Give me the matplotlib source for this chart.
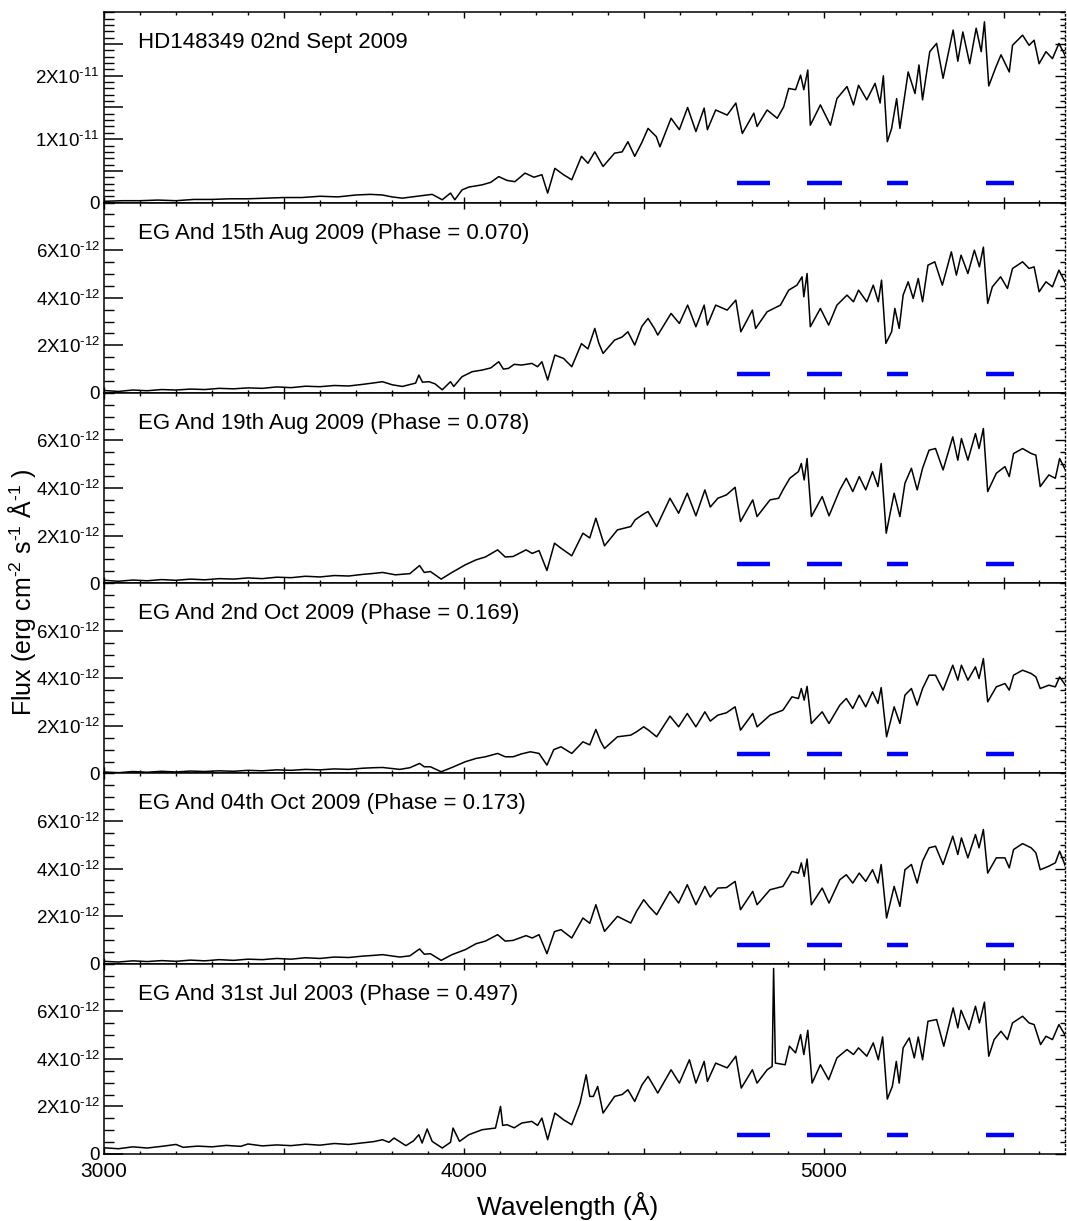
import matplotlib
matplotlib.use('Agg')
import numpy as np
import matplotlib.pyplot as plt
from matplotlib.ticker import MultipleLocator

plt.rcParams['font.family'] = ['Liberation Sans', 'DejaVu Sans']
plt.rcParams['mathtext.fontset'] = 'custom'
plt.rcParams['mathtext.rm'] = 'Liberation Sans'
plt.rcParams['mathtext.it'] = 'Liberation Sans:italic'

# ---- spectra (wavelength in Angstrom) ----
# HD148349, flux in units of 1e-11
hd_wave = [3000, 3050, 3100, 3150, 3200, 3250, 3300, 3350, 3400, 3450, 3500, 3550, 3600, 3650, 3700, 3740,
           3774, 3800, 3829, 3870, 3912, 3940, 3963, 3975, 3995, 4014, 4051, 4075, 4097, 4120, 4142, 4170,
           4195, 4217, 4233, 4253, 4277, 4300, 4327, 4345, 4364, 4387, 4419, 4440, 4456, 4475, 4495, 4512,
           4535, 4545, 4576, 4599, 4622, 4645, 4668, 4677, 4700, 4732, 4756, 4774, 4790, 4806, 4815, 4843,
           4871, 4889, 4903, 4922, 4936, 4945, 4956, 4963, 4991, 5019, 5037, 5065, 5083, 5097, 5120, 5143,
           5157, 5166, 5177, 5189, 5203, 5212, 5235, 5254, 5265, 5275, 5295, 5314, 5332, 5360, 5373, 5387,
           5406, 5424, 5438, 5447, 5459, 5479, 5493, 5516, 5525, 5553, 5571, 5585, 5599, 5618, 5636, 5654,
           5673, 5690]
hd_flux = [0.02, 0.03, 0.03, 0.04, 0.03, 0.05, 0.05, 0.06, 0.06, 0.07, 0.08, 0.08, 0.10, 0.09, 0.12, 0.13,
           0.12, 0.09, 0.07, 0.10, 0.13, 0.045, 0.15, 0.045, 0.20, 0.245, 0.28, 0.32, 0.41, 0.35, 0.33, 0.465,
           0.40, 0.44, 0.15, 0.54, 0.44, 0.36, 0.73, 0.62, 0.80, 0.57, 0.78, 0.80, 0.96, 0.73, 0.95, 1.17,
           1.04, 0.88, 1.33, 1.15, 1.50, 1.12, 1.49, 1.15, 1.46, 1.38, 1.57, 1.09, 1.25, 1.41, 1.20, 1.46,
           1.33, 1.51, 1.80, 1.78, 2.01, 1.78, 2.09, 1.22, 1.54, 1.22, 1.64, 1.83, 1.54, 1.85, 1.62, 1.88,
           1.57, 2.00, 0.96, 1.17, 1.64, 1.17, 2.06, 1.72, 2.17, 1.62, 2.38, 2.51, 1.96, 2.72, 2.23, 2.69,
           2.19, 2.75, 2.38, 2.85, 1.84, 2.14, 2.33, 2.06, 2.48, 2.64, 2.48, 2.56, 2.19, 2.38, 2.27, 2.51,
           2.30, 2.40]

# EG And 15th Aug 2009, flux in units of 1e-12
aug15_wave = [3000, 3040, 3080, 3120, 3160, 3200, 3240, 3280, 3320, 3360, 3400, 3440, 3480, 3520, 3560, 3600,
              3640, 3680, 3720, 3750, 3774, 3801, 3829, 3850, 3866, 3875, 3885, 3903, 3920, 3940, 3963, 3972,
              3995, 4023, 4051, 4075, 4097, 4110, 4124, 4140, 4161, 4189, 4205, 4217, 4233, 4253, 4277, 4300,
              4327, 4345, 4364, 4375, 4387, 4419, 4440, 4456, 4475, 4495, 4512, 4530, 4539, 4576, 4599, 4622,
              4645, 4668, 4677, 4700, 4732, 4756, 4770, 4802, 4811, 4843, 4880, 4903, 4926, 4940, 4945, 4954,
              4963, 4991, 5014, 5037, 5065, 5083, 5097, 5120, 5138, 5152, 5161, 5173, 5189, 5198, 5210, 5221,
              5235, 5249, 5263, 5275, 5290, 5309, 5330, 5355, 5369, 5382, 5401, 5419, 5433, 5444, 5456, 5469,
              5492, 5511, 5525, 5553, 5571, 5585, 5599, 5618, 5636, 5654, 5673, 5690]
aug15_flux = [0.10, 0.06, 0.12, 0.09, 0.14, 0.12, 0.16, 0.14, 0.19, 0.17, 0.21, 0.19, 0.25, 0.22, 0.28, 0.26,
              0.31, 0.29, 0.36, 0.42, 0.47, 0.34, 0.27, 0.35, 0.41, 0.75, 0.45, 0.47, 0.38, 0.13, 0.47, 0.27,
              0.68, 0.89, 0.96, 1.05, 1.31, 1.00, 1.03, 1.20, 1.17, 1.24, 1.10, 1.31, 0.54, 1.59, 1.45, 1.10,
              2.07, 1.85, 2.71, 2.10, 1.66, 2.22, 2.35, 2.57, 2.01, 2.80, 3.13, 2.70, 2.43, 3.34, 2.92, 3.69,
              2.78, 3.69, 2.85, 3.69, 3.48, 3.90, 2.57, 3.48, 2.71, 3.41, 3.69, 4.32, 4.53, 4.88, 4.04, 5.02,
              2.78, 3.55, 2.85, 3.69, 4.11, 3.83, 4.32, 3.83, 4.53, 3.83, 4.74, 2.08, 2.57, 3.55, 2.71, 4.11,
              4.67, 3.97, 4.81, 3.83, 5.37, 5.51, 4.53, 5.93, 4.95, 5.79, 5.02, 6.00, 5.30, 6.13, 3.76, 4.46,
              4.88, 4.39, 5.23, 5.51, 5.23, 5.30, 4.25, 4.67, 4.46, 5.16, 4.60, 4.70]

# EG And 19th Aug 2009
aug19_wave = [3000, 3040, 3080, 3120, 3160, 3200, 3240, 3280, 3320, 3360, 3400, 3440, 3480, 3520, 3560, 3600,
              3640, 3680, 3720, 3750, 3774, 3810, 3850, 3877, 3890, 3907, 3937, 3967, 4004, 4034, 4060, 4094,
              4115, 4137, 4173, 4190, 4209, 4231, 4252, 4270, 4300, 4331, 4350, 4367, 4380, 4391, 4427, 4464,
              4476, 4500, 4512, 4536, 4573, 4597, 4621, 4645, 4670, 4685, 4706, 4730, 4754, 4769, 4803, 4815,
              4851, 4875, 4887, 4906, 4930, 4938, 4946, 4954, 4966, 4996, 5015, 5045, 5063, 5081, 5099, 5117,
              5136, 5151, 5160, 5174, 5196, 5212, 5226, 5244, 5260, 5275, 5293, 5311, 5332, 5359, 5373, 5383,
              5401, 5422, 5432, 5444, 5456, 5480, 5504, 5516, 5528, 5553, 5577, 5590, 5602, 5626, 5644, 5656,
              5672, 5690]
aug19_flux = [0.12, 0.08, 0.13, 0.10, 0.15, 0.12, 0.17, 0.14, 0.19, 0.17, 0.22, 0.19, 0.25, 0.23, 0.29, 0.26,
              0.32, 0.30, 0.37, 0.41, 0.45, 0.35, 0.40, 0.74, 0.45, 0.49, 0.17, 0.45, 0.77, 0.98, 1.10, 1.40,
              1.10, 1.12, 1.40, 1.25, 1.37, 0.53, 1.68, 1.47, 1.15, 2.10, 1.90, 2.73, 2.10, 1.57, 2.24, 2.38,
              2.66, 2.91, 3.01, 2.38, 3.57, 2.94, 3.78, 2.83, 3.92, 3.20, 3.57, 3.71, 4.03, 2.59, 3.50, 2.80,
              3.50, 3.57, 3.92, 4.41, 4.69, 5.03, 4.34, 5.24, 2.80, 3.64, 2.83, 3.92, 4.41, 3.85, 4.48, 3.92,
              4.69, 4.06, 5.03, 2.10, 3.78, 2.80, 4.20, 4.83, 3.92, 4.83, 5.59, 5.66, 4.76, 6.15, 5.17, 6.08,
              5.17, 6.29, 5.66, 6.50, 3.85, 4.62, 4.90, 4.48, 5.45, 5.66, 5.45, 5.38, 4.06, 4.55, 4.41, 5.24,
              4.76, 4.85]

# EG And 2nd Oct 2009
oct02_wave = [3000, 3040, 3080, 3120, 3160, 3200, 3240, 3280, 3320, 3360, 3400, 3440, 3480, 3520, 3560, 3600,
              3640, 3680, 3720, 3750, 3774, 3822, 3850, 3877, 3890, 3907, 3937, 3967, 4004, 4034, 4060, 4094,
              4115, 4137, 4160, 4185, 4209, 4231, 4250, 4270, 4300, 4331, 4350, 4367, 4380, 4391, 4427, 4464,
              4480, 4500, 4515, 4536, 4573, 4597, 4621, 4645, 4670, 4685, 4706, 4730, 4754, 4769, 4803, 4815,
              4851, 4887, 4912, 4930, 4938, 4946, 4954, 4966, 4996, 5015, 5045, 5063, 5081, 5099, 5117, 5136,
              5151, 5160, 5175, 5196, 5212, 5226, 5244, 5260, 5275, 5293, 5311, 5332, 5359, 5373, 5383, 5401,
              5422, 5432, 5444, 5456, 5480, 5504, 5516, 5528, 5553, 5577, 5590, 5602, 5626, 5644, 5656, 5672,
              5690]
oct02_flux = [0.06, 0.03, 0.08, 0.05, 0.09, 0.06, 0.10, 0.08, 0.11, 0.09, 0.13, 0.11, 0.15, 0.13, 0.17, 0.15,
              0.19, 0.17, 0.22, 0.24, 0.25, 0.17, 0.24, 0.42, 0.28, 0.28, 0.07, 0.25, 0.49, 0.63, 0.70, 0.84,
              0.70, 0.70, 0.82, 0.91, 0.84, 0.35, 1.00, 1.12, 0.84, 1.33, 1.20, 1.85, 1.35, 1.05, 1.54, 1.61,
              1.75, 1.96, 1.80, 1.54, 2.41, 1.96, 2.52, 1.96, 2.59, 2.20, 2.45, 2.55, 2.80, 1.82, 2.52, 1.96,
              2.45, 2.66, 3.22, 3.15, 3.57, 3.08, 3.66, 2.10, 2.59, 2.10, 2.87, 3.15, 2.73, 3.29, 2.80, 3.43,
              2.94, 3.61, 1.54, 2.80, 2.10, 3.29, 3.57, 2.87, 3.57, 4.13, 4.13, 3.50, 4.55, 3.92, 4.55, 3.92,
              4.48, 3.99, 4.83, 3.01, 3.64, 3.78, 3.50, 4.13, 4.34, 4.20, 4.06, 3.57, 3.71, 3.64, 4.06, 3.71,
              3.80]

# EG And 04th Oct 2009
oct04_wave = [3000, 3040, 3080, 3120, 3160, 3200, 3240, 3280, 3320, 3360, 3400, 3440, 3480, 3520, 3560, 3600,
              3640, 3680, 3720, 3750, 3774, 3822, 3850, 3877, 3890, 3907, 3937, 3967, 4004, 4034, 4060, 4094,
              4115, 4137, 4173, 4190, 4209, 4231, 4252, 4270, 4300, 4331, 4350, 4367, 4380, 4391, 4427, 4464,
              4480, 4500, 4515, 4536, 4573, 4597, 4621, 4645, 4670, 4685, 4706, 4730, 4754, 4769, 4803, 4815,
              4851, 4887, 4912, 4930, 4938, 4946, 4954, 4966, 4996, 5015, 5045, 5063, 5081, 5099, 5117, 5136,
              5151, 5160, 5175, 5196, 5212, 5226, 5244, 5260, 5275, 5293, 5311, 5332, 5359, 5373, 5383, 5401,
              5422, 5432, 5444, 5456, 5480, 5504, 5516, 5528, 5553, 5577, 5590, 5602, 5626, 5644, 5656, 5672,
              5690]
oct04_flux = [0.10, 0.07, 0.12, 0.09, 0.13, 0.10, 0.15, 0.12, 0.17, 0.14, 0.19, 0.17, 0.22, 0.19, 0.25, 0.22,
              0.28, 0.26, 0.32, 0.35, 0.38, 0.28, 0.33, 0.62, 0.40, 0.42, 0.14, 0.38, 0.59, 0.84, 0.95, 1.22,
              0.95, 0.98, 1.18, 1.08, 1.22, 0.42, 1.35, 1.43, 1.08, 1.92, 1.70, 2.48, 1.85, 1.36, 1.99, 1.71,
              2.20, 2.69, 2.40, 2.06, 3.04, 2.55, 3.32, 2.48, 3.25, 2.80, 3.18, 3.20, 3.46, 2.27, 3.04, 2.48,
              3.11, 3.25, 3.88, 3.81, 4.24, 3.67, 4.40, 2.48, 3.18, 2.55, 3.53, 3.74, 3.39, 3.81, 3.46, 3.95,
              3.39, 4.17, 1.92, 3.25, 2.41, 3.95, 4.17, 3.39, 4.31, 4.87, 4.94, 4.17, 5.36, 4.59, 5.29, 4.45,
              5.43, 4.87, 5.64, 3.81, 4.45, 4.45, 4.03, 4.80, 5.05, 4.87, 4.66, 3.95, 4.10, 4.24, 4.73, 4.10,
              4.30]

# EG And 31st Jul 2003 (emission lines at H-delta, H-gamma, H-beta)
jul31_wave = [3000, 3040, 3080, 3120, 3160, 3200, 3220, 3260, 3300, 3340, 3380, 3400, 3440, 3480, 3520, 3560,
              3600, 3640, 3680, 3720, 3750, 3774, 3792, 3806, 3839, 3860, 3875, 3884, 3898, 3912, 3940, 3963,
              3970, 3988, 4014, 4051, 4088, 4102, 4108, 4120, 4140, 4161, 4189, 4205, 4217, 4233, 4253, 4277,
              4300, 4323, 4340, 4350, 4360, 4372, 4387, 4419, 4440, 4456, 4475, 4495, 4512, 4530, 4539, 4576,
              4599, 4627, 4645, 4668, 4677, 4700, 4732, 4756, 4771, 4802, 4815, 4843, 4857, 4861, 4866, 4893,
              4905, 4922, 4936, 4945, 4956, 4968, 4991, 5014, 5037, 5065, 5083, 5097, 5120, 5138, 5152, 5164,
              5177, 5191, 5202, 5210, 5221, 5238, 5252, 5263, 5275, 5290, 5314, 5334, 5360, 5373, 5382, 5404,
              5422, 5433, 5447, 5459, 5474, 5493, 5511, 5525, 5553, 5571, 5585, 5603, 5618, 5636, 5654, 5673,
              5690]
jul31_flux = [0.26, 0.22, 0.30, 0.25, 0.32, 0.40, 0.28, 0.33, 0.30, 0.36, 0.32, 0.42, 0.34, 0.38, 0.35, 0.41,
              0.37, 0.44, 0.40, 0.47, 0.52, 0.60, 0.49, 0.67, 0.35, 0.55, 0.81, 0.46, 1.05, 0.53, 0.25, 0.49,
              1.09, 0.53, 0.81, 1.02, 1.09, 2.00, 1.20, 1.23, 1.10, 1.30, 1.37, 1.20, 1.51, 0.60, 1.72, 1.44,
              1.23, 2.14, 3.33, 2.42, 2.42, 2.84, 1.72, 2.42, 2.50, 2.70, 2.21, 2.90, 3.26, 2.80, 2.56, 3.54,
              2.98, 3.96, 2.98, 3.89, 3.05, 3.82, 3.62, 4.11, 2.77, 3.54, 2.98, 3.54, 3.68, 7.80, 3.82, 3.75,
              4.53, 4.25, 5.02, 4.18, 5.20, 2.98, 3.75, 3.12, 4.04, 4.39, 4.18, 4.46, 4.11, 4.67, 3.96, 4.92,
              2.31, 2.84, 3.89, 2.98, 4.46, 4.88, 4.04, 4.92, 3.96, 5.58, 5.65, 4.53, 6.14, 5.30, 6.04, 5.23,
              6.21, 5.51, 6.38, 4.11, 4.81, 5.16, 4.81, 5.51, 5.79, 5.51, 5.44, 4.60, 4.95, 4.81, 5.44, 4.95,
              5.05]

titles = ['HD148349 02nd Sept 2009',
          'EG And 15th Aug 2009 (Phase = 0.070)',
          'EG And 19th Aug 2009 (Phase = 0.078)',
          'EG And 2nd Oct 2009 (Phase = 0.169)',
          'EG And 04th Oct 2009 (Phase = 0.173)',
          'EG And 31st Jul 2003 (Phase = 0.497)']
waves = [hd_wave, aug15_wave, aug19_wave, oct02_wave, oct04_wave, jul31_wave]
fluxes = [hd_flux, aug15_flux, aug19_flux, oct02_flux, oct04_flux, jul31_flux]
units = [1e-11, 1e-12, 1e-12, 1e-12, 1e-12, 1e-12]

# TiO band regions marked under each spectrum
bands = [(4760, 4850), (4955, 5050), (5175, 5235), (5450, 5530)]
band_level = [3.1e-12, 0.8e-12, 0.8e-12, 0.8e-12, 0.8e-12, 0.8e-12]

hd_yticks = [0, 5e-12, 1e-11, 1.5e-11, 2e-11, 2.5e-11]
hd_ylabels = ['0', '', r'1X10$^{\text{-11}}$', '', r'2X10$^{\text{-11}}$', '']
eg_yticks = [0, 2e-12, 4e-12, 6e-12]
eg_ylabels = ['0', r'2X10$^{\text{-12}}$', r'4X10$^{\text{-12}}$', r'6X10$^{\text{-12}}$']

xticks = [3000, 3500, 4000, 4500, 5000, 5500]
xlabels = ['3000', '', '4000', '', '5000', '']

fig, axes = plt.subplots(6, 1, sharex=True, figsize=(10.67, 12.21), dpi=100)
fig.subplots_adjust(left=0.0975, right=0.9985, top=0.9899, bottom=0.0549, hspace=0)

for i, ax in enumerate(axes):
    w = np.array(waves[i])
    f = np.array(fluxes[i]) * units[i]
    ax.plot(w, f, color='black', lw=1.1)
    for lo, hi in bands:
        ax.plot([lo, hi], [band_level[i], band_level[i]], color='#0000ff', lw=3.2,
                solid_capstyle='butt')

    ax.set_xlim(3000, 5672)
    if i == 0:
        ax.set_ylim(0, 3e-11)
        ax.set_yticks(hd_yticks, hd_ylabels)
        minor_step = 1e-12
        nmaj = len(hd_yticks)
    else:
        ax.set_ylim(0, 8e-12)
        ax.set_yticks(eg_yticks, eg_ylabels)
        minor_step = 5e-13
        nmaj = len(eg_yticks)
    ax.yaxis.set_minor_locator(MultipleLocator(minor_step))

    ax.set_xticks(xticks, xlabels)
    ax.xaxis.set_minor_locator(MultipleLocator(100))
    ax.tick_params(axis='y', which='major', direction='in', length=13.5, width=1.1,
                   labelsize=13.5, left=True, right=False, pad=3)
    ax.tick_params(axis='y', which='minor', direction='in', length=7, width=1.0,
                   left=True, right=False)
    ax.tick_params(axis='x', which='major', direction='in', length=4.5, width=1.0,
                   labelsize=15, top=True, bottom=True, pad=6)
    ax.tick_params(axis='x', which='minor', direction='in', length=2.5, width=1.0,
                   top=True, bottom=True)

    # right-hand axis: short inward ticks on a dotted spine
    sec = ax.secondary_yaxis('right')
    sec.set_yticks(ax.get_yticks()[:nmaj])
    sec.yaxis.set_minor_locator(MultipleLocator(minor_step))
    sec.tick_params(which='major', direction='in', length=7, width=1.0, labelright=False)
    sec.tick_params(which='minor', direction='in', length=3.5, width=1.0)
    sec.spines['right'].set_linestyle((0, (1, 2)))
    sec.spines['right'].set_linewidth(1.0)
    ax.spines['right'].set_visible(False)

    for s in ['left', 'top', 'bottom']:
        ax.spines[s].set_linewidth(1.1)

    ax.text(0.035, 0.84, titles[i], transform=ax.transAxes, fontsize=16,
            ha='left', va='center')

fig.text(0.021, 0.515, 'Flux (erg cm$^{\\text{-2}}$ s$^{\\text{-1}}$ \u00c5$^{\\text{-1}}$ )',
         rotation=90, fontsize=18, ha='center', va='center')
fig.text(0.532, 0.012, 'Wavelength (\u00c5)', fontsize=19, ha='center', va='center')

fig.savefig('out.png', dpi=100)
